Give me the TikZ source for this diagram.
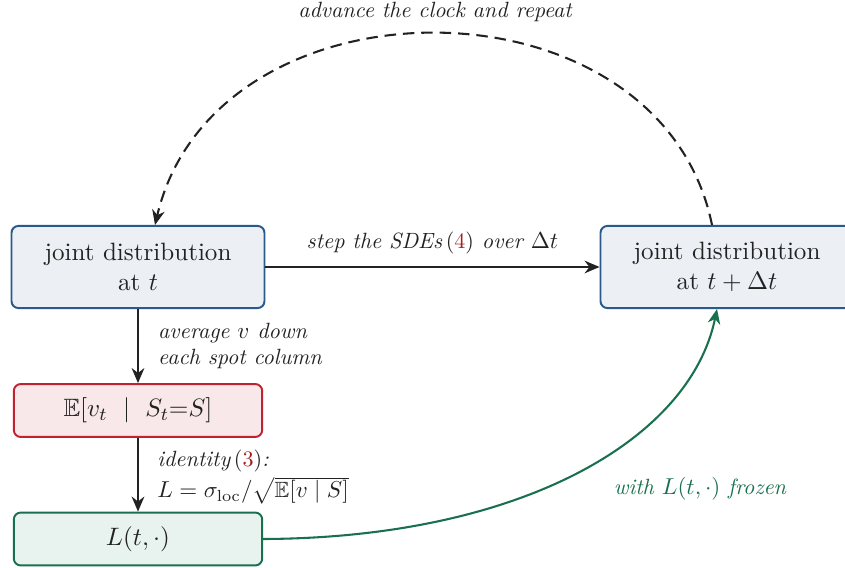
\documentclass[tikz,border=0pt]{standalone}
\usepackage{amsmath,amssymb}
\usetikzlibrary{arrows.meta}
\definecolor{bluefill}{HTML}{ECEFF4}
\definecolor{blueline}{HTML}{2A5A8C}
\definecolor{redfill}{HTML}{F8E8E9}
\definecolor{redline}{HTML}{C0232F}
\definecolor{greenfill}{HTML}{E8F2EE}
\definecolor{greenline}{HTML}{18704E}
\definecolor{textc}{HTML}{222222}
\definecolor{refred}{HTML}{A31F1F}
\tikzset{
  box/.style={draw, rounded corners=3pt, line width=0.85pt, align=center, text=textc, inner sep=0pt, font=\fontsize{10.9pt}{13.2pt}\selectfont},
  bigbox/.style={box, fill=bluefill, draw=blueline, minimum width=110pt, minimum height=35.7pt},
  redbox/.style={box, fill=redfill, draw=redline, minimum width=108pt, minimum height=23pt},
  greenbox/.style={box, fill=greenfill, draw=greenline, minimum width=108pt, minimum height=23pt},
  conn/.style={draw=textc, line width=0.9pt, -{Stealth[length=6.5pt,width=5.5pt]}},
  lab/.style={font=\fontsize{9.6pt}{11.3pt}\selectfont\itshape, text=textc, align=left},
}
\begin{document}
\begin{tikzpicture}[x=0.4348pt, y=-0.4348pt]
\useasboundingbox (0,0) rectangle (845,568);
\node[bigbox] (A) at (138,267) {joint distribution\\at $t$};
\node[bigbox] (B) at (727,267) {joint distribution\\at $t+\Delta t$};
\node[redbox] (C) at (138,410.5) {$\mathbb{E}[v_t\ \mid\ S_t{=}S]$};
\node[greenbox] (D) at (138,539) {$L(t,\cdot)$};
\draw[conn] (A) -- node[lab, above=2pt] {step the SDEs\,\textup{(\textcolor{refred}{4})} over $\Delta t$} (B);
\draw[conn] (A) -- node[lab, right=5pt] {average $v$ down\\each spot column} (C);
\draw[conn] (C) -- node[lab, right=7pt, inner sep=1pt, yshift=-1pt] {identity\,\textup{(\textcolor{refred}{3})}:\\[1.2pt]$L=\sigma_{\mathrm{loc}}/\sqrt{\mathbb{E}[v\mid S]}$} (D);
\draw[conn, draw=greenline] (D.east) .. controls (520,538) and (690,440) .. (B.south -| 717,0);
\node[lab, text=greenline] (gl) at (700,489) {with $L(t,\cdot)$ frozen};
\draw[conn, dashed, dash pattern=on 5pt off 3pt] (B.north -| 712,0) .. controls (660,-30) and (215,-30) .. (A.north -| 155,0);
\node[lab] (top) at (435,12) {advance the clock and repeat};
\end{tikzpicture}
\end{document}
